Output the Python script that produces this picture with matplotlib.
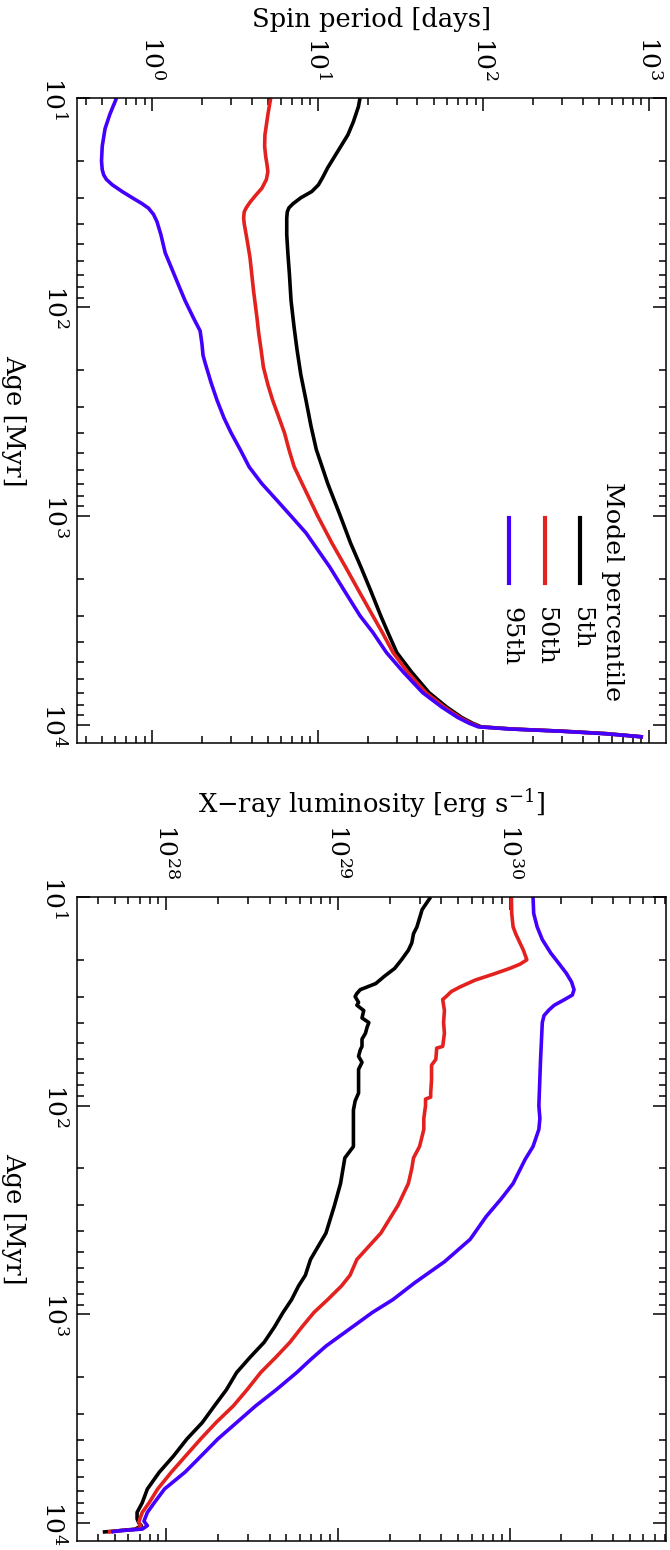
import numpy as np
import matplotlib
matplotlib.use('Agg')
import matplotlib.pyplot as plt
from matplotlib.ticker import LogLocator, NullFormatter

plt.rcParams['font.family'] = ['DejaVu Serif']
plt.rcParams['mathtext.fontset'] = 'dejavuserif'

labels = ['5th', '50th', '95th']
colors = ['black', '#e3211f', '#4400ff']

# spin period tracks (age in Myr, period in days)
age_spin_5 = [10, 11, 13, 15, 18, 21.5, 24, 26, 28, 30, 32, 33.5, 35, 37.5, 45, 55, 70, 93,
              125, 160, 210, 280, 370, 480, 700, 1000, 1350, 1750, 2300, 3000, 3600, 4500,
              5600, 7000, 8200, 9200, 9800, 10200, 10450, 10700, 11000, 11400]
per_5 = [18, 17.6, 16.4, 15.2, 13.2, 11.5, 10.7, 10.1, 9.2, 7.9, 7.1, 6.7, 6.55, 6.5, 6.5,
         6.6, 6.75, 6.9, 7.2, 7.5, 7.9, 8.5, 9.1, 9.8, 11.5, 13.7, 15.8, 18.2, 21, 24, 26.5,
         30, 37, 47, 60, 74, 86, 97, 150, 300, 560, 920]

age_spin_50 = [10, 12, 15, 17, 19, 21, 22.5, 24.5, 27, 29, 31.5, 33.5, 35, 37.5, 40, 48, 58,
               70, 84, 113, 133, 160, 194, 235, 280, 340, 400, 480, 580, 750, 1000, 1350,
               1750, 2300, 3000, 3600, 4500, 5600, 7000, 8200, 9200, 9800, 10200, 10450,
               10700, 11000, 11400]
per_50 = [5.2, 5.0, 4.8, 4.78, 4.85, 4.95, 5.0, 4.9, 4.6, 4.25, 3.9, 3.7, 3.6, 3.57, 3.6,
          3.75, 3.9, 4.0, 4.1, 4.3, 4.4, 4.55, 4.7, 5.0, 5.35, 5.85, 6.3, 6.7, 7.2, 8.4, 10,
          12.2, 14.7, 17.8, 21.5, 24.5, 28.5, 35, 45, 58, 72, 84, 95, 148, 295, 550, 920]

age_spin_95 = [10, 11, 12, 14, 17, 20, 22, 23.3, 24.5, 26, 28, 30, 32, 33.6, 36, 39, 45, 55,
               66, 78, 93, 113, 130, 150, 170, 185, 230, 280, 340, 400, 480, 583, 700, 838,
               1000, 1205, 1450, 1750, 2300, 3000, 3600, 4500, 5600, 7000, 8200, 9200, 9800,
               10200, 10450, 10700, 11000, 11400]
per_95 = [0.61, 0.58, 0.555, 0.52, 0.5, 0.495, 0.5, 0.51, 0.53, 0.575, 0.66, 0.76, 0.87,
          0.95, 1.02, 1.07, 1.13, 1.2, 1.32, 1.44, 1.58, 1.78, 1.95, 2.0, 2.03, 2.09, 2.27,
          2.47, 2.72, 3.0, 3.4, 3.86, 4.6, 5.65, 6.9, 8.5, 10.0, 11.8, 14.6, 18, 21.5, 26,
          33, 43, 56, 70, 82, 93, 145, 290, 540, 920]

# X-ray tracks (age in Myr, log10 Lx in erg/s)
age_x_5 = [10, 11.5, 13.9, 15, 16.6, 18, 20, 22, 24, 26, 27.8, 29, 30, 32, 33, 35, 38, 40,
           42, 45, 48, 52, 54, 58, 62, 67, 75, 87, 95, 105, 130, 157, 178, 236, 300, 408,
           546, 650, 732, 850, 980, 1150, 1362, 1600, 1900, 2300, 2750, 3300, 3960, 4800,
           5700, 6870, 8000, 8900, 9560, 10000, 10300, 10700, 10900, 11050]
logx_5 = [29.54, 29.49, 29.46, 29.44, 29.43, 29.41, 29.37, 29.33, 29.27, 29.22, 29.13,
          29.11, 29.10, 29.12, 29.11, 29.15, 29.14, 29.18, 29.17, 29.16, 29.14, 29.14,
          29.13, 29.12, 29.14, 29.12, 29.12, 29.12, 29.10, 29.09, 29.09, 29.09, 29.04,
          29.015, 28.98, 28.93, 28.84, 28.81, 28.77, 28.73, 28.68, 28.63, 28.57, 28.49,
          28.41, 28.35, 28.28, 28.21, 28.12, 28.04, 27.96, 27.89, 27.86, 27.83, 27.83,
          27.84, 27.855, 27.82, 27.72, 27.63]

age_x_50 = [10, 12, 13.9, 15, 16.6, 18, 20, 21, 22, 23.5, 25, 27, 28.4, 30, 31, 35, 40,
            45, 52, 53, 60, 64, 75, 87, 91, 93, 100, 115, 130, 157, 178, 200, 236, 300, 408,
            546, 650, 732, 850, 980, 1150, 1362, 1600, 1900, 2300, 2750, 3300, 3960, 4800,
            5700, 6870, 8000, 8900, 9900, 10300, 10700, 10900, 11050]
logx_50 = [30.01, 30.012, 30.02, 30.035, 30.06, 30.08, 30.10, 30.06, 30.0, 29.9, 29.80,
           29.71, 29.66, 29.63, 29.61, 29.62, 29.615, 29.62, 29.61, 29.575, 29.57, 29.545,
           29.545, 29.54, 29.54, 29.51, 29.51, 29.50, 29.50, 29.475, 29.44, 29.43, 29.41,
           29.35, 29.25, 29.11, 29.07, 29.02, 28.94, 28.86, 28.79, 28.72, 28.64, 28.55,
           28.47, 28.39, 28.29, 28.20, 28.11, 28.03, 27.95, 27.90, 27.86, 27.84, 27.85,
           27.84, 27.72, 27.66]

age_x_95 = [10, 12, 13.9, 16, 18.6, 20, 23.2, 25.5, 27.8, 29.5, 31, 33, 34.7, 37, 40, 60,
            100, 115, 130, 157, 181, 236, 280, 340, 437, 560, 703, 850, 980, 1140, 1420,
            1650, 1900, 2300, 2750, 3300, 3960, 4800, 5700, 6870, 8000, 8900, 9800, 10300,
            10700, 10900, 11050]
logx_95 = [30.136, 30.14, 30.16, 30.19, 30.24, 30.27, 30.33, 30.36, 30.375, 30.365,
           30.32, 30.26, 30.23, 30.20, 30.19, 30.18, 30.17, 30.176, 30.17, 30.136, 30.09,
           30.02, 29.95, 29.863, 29.77, 29.62, 29.45, 29.32, 29.20, 29.09, 28.93, 28.84,
           28.76, 28.64, 28.52, 28.41, 28.30, 28.20, 28.11, 27.99, 27.93, 27.89, 27.87,
           27.89, 27.86, 27.72, 27.68]

spin_tracks = [(age_spin_5, per_5), (age_spin_50, per_50), (age_spin_95, per_95)]
xray_tracks = [(age_x_5, logx_5), (age_x_50, logx_50), (age_x_95, logx_95)]


def style_axes(ax, xlim, xticks, xlabel, label_y):
    ax.set_xscale('log')
    ax.set_yscale('log')
    ax.set_xlim(*xlim)
    ax.set_ylim(12200, 10)
    ax.set_xticks(xticks)
    ax.set_yticks([10, 100, 1000, 10000])
    ax.xaxis.set_minor_locator(LogLocator(base=10, subs=np.arange(2, 10), numticks=30))
    ax.yaxis.set_minor_locator(LogLocator(base=10, subs=np.arange(2, 10), numticks=30))
    ax.xaxis.set_minor_formatter(NullFormatter())
    ax.yaxis.set_minor_formatter(NullFormatter())
    ax.tick_params(which='both', direction='in', top=True, bottom=True, left=True,
                   right=True, labeltop=True, labelbottom=False, width=1.1)
    ax.tick_params(which='major', length=9.5)
    ax.tick_params(which='minor', length=5)
    ax.tick_params(axis='x', pad=13, labelsize=18, labelrotation=-90)
    ax.tick_params(axis='y', pad=7, labelsize=18, labelrotation=-90)
    for t in ax.get_yticklabels():
        t.set_va('center')
    for sp in ax.spines.values():
        sp.set_linewidth(1.1)
    ax.set_xlabel(xlabel, fontsize=18.5, va='baseline')
    ax.xaxis.set_label_position('top')
    ax.xaxis.set_label_coords(0.5, label_y)
    ax.set_ylabel('Age [Myr]', fontsize=18.5, rotation=-90, ha='center', va='center',
                  rotation_mode='default')
    ax.yaxis.set_label_coords(-0.107, 0.5)


fig = plt.figure(figsize=(6.7, 15.5), dpi=100)
ax1 = fig.add_axes([0.1149, 0.5206, 0.879, 0.4161])
ax2 = fig.add_axes([0.1149, 0.0058, 0.879, 0.4155])

for (age, per), c in zip(spin_tracks, colors):
    ax1.plot(per, age, color=c, lw=2.6, solid_capstyle='butt')

for (age, lx), c in zip(xray_tracks, colors):
    ax2.plot(10 ** np.array(lx), age, color=c, lw=2.6, solid_capstyle='butt')

style_axes(ax1, (0.352, 1265), [1, 10, 100, 1000], 'Spin period [days]', 1.110)
style_axes(ax2, (10 ** 27.48, 10 ** 30.91), [1e28, 1e29, 1e30],
           r'X$-$ray luminosity [erg s$^{-1}$]', 1.1304)

# sideways legend
ax1.text(0.91, 0.405, 'Model percentile', transform=ax1.transAxes, rotation=-90,
         ha='center', va='top', fontsize=18.3)
for i, (lab, c) in enumerate(zip(labels, colors)):
    xx = 0.854 - i * 0.06
    ax1.plot([xx, xx], [0.349, 0.248], transform=ax1.transAxes, color=c, lw=3)
    ax1.text(xx + 0.002, 0.211, lab, transform=ax1.transAxes, rotation=-90,
             ha='center', va='top', fontsize=18.3)

fig.savefig('out.png', dpi=100)
